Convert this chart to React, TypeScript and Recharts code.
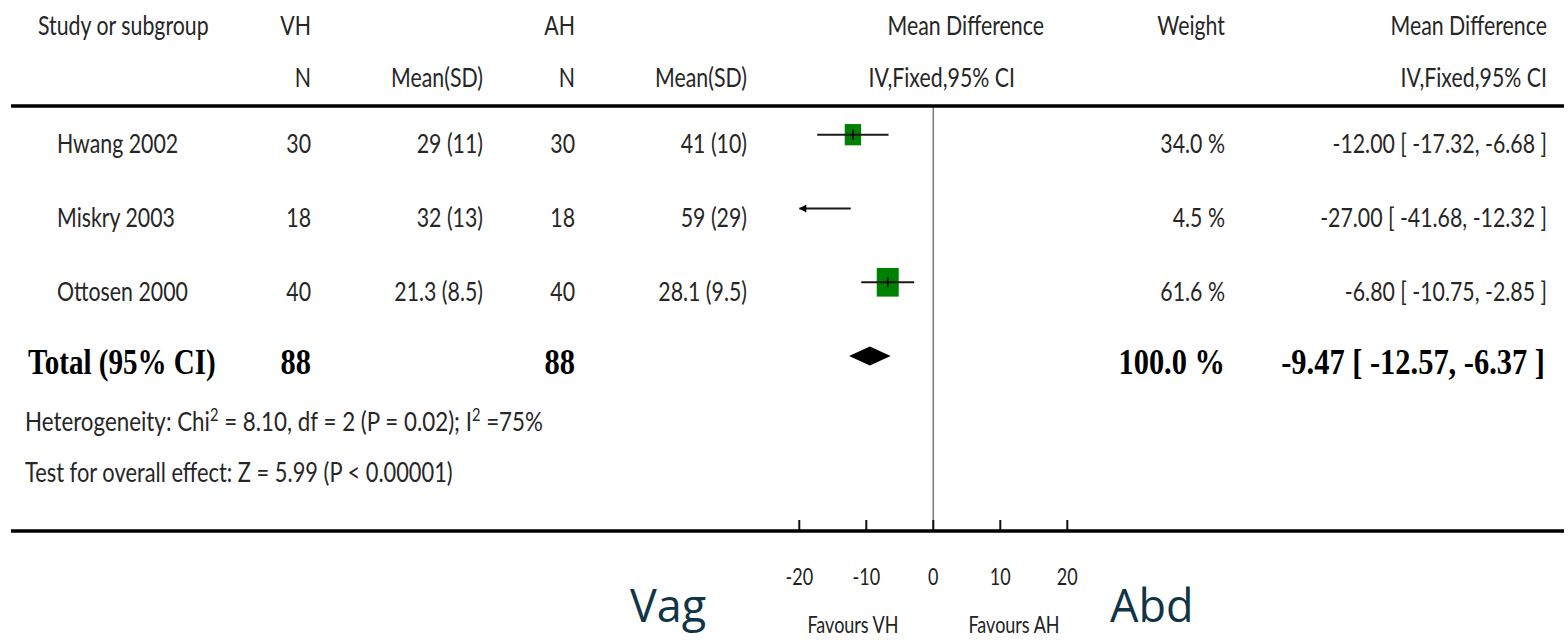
import { ComposedChart, ReferenceLine, Scatter, XAxis, YAxis } from "recharts";

const STUDIES = ["Hwang 2002", "Miskry 2003", "Ottosen 2000"];
const VH_N = [30, 18, 40];
const VH_MEAN_SD = ["29 (11)", "32 (13)", "21.3 (8.5)"];
const AH_N = [30, 18, 40];
const AH_MEAN_SD = ["41 (10)", "59 (29)", "28.1 (9.5)"];
const MEAN_DIFF = [-12.0, -27.0, -6.8];
const CI_LOW = [-17.32, -41.68, -10.75];
const CI_HIGH = [-6.68, -12.32, -2.85];
const WEIGHTS = [34.0, 4.5, 61.6];

const TOTAL_VH_N = 88;
const TOTAL_AH_N = 88;
const TOTAL_MD = -9.47;
const TOTAL_LOW = -12.57;
const TOTAL_HIGH = -6.37;
const TOTAL_WEIGHT = 100.0;

const X_TICKS = [-20, -10, 0, 10, 20];
const X_MIN = -20;
const X_MAX = 20;

const W = 1568;
const H = 640;
const PLOT_TOP = 107;
const PLOT_BOTTOM = 531;
const ROW_STEP = 73.8;
const ROW_START = 0.625;
const ROW_END = ROW_START + (PLOT_BOTTOM - PLOT_TOP) / ROW_STEP;

const SANS = "Lato, 'Noto Sans', sans-serif";
const SERIF = "'Liberation Serif', 'DejaVu Serif', serif";
const INK = "#262626";

const rowY = (r: number) => PLOT_TOP + (r - ROW_START) * ROW_STEP;
const clampX = (v: number) => Math.min(X_MAX, Math.max(X_MIN, v));
const fmtCi = (md: number, lo: number, hi: number) =>
  `${md.toFixed(2)} [ ${lo.toFixed(2)}, ${hi.toFixed(2)} ]`;

const squareData = STUDIES.map((name, i) => ({
  name,
  x: MEAN_DIFF[i],
  y: i + 1,
  weight: WEIGHTS[i],
})).filter((d) => d.x >= X_MIN && d.x <= X_MAX);

type TProps = {
  x: number;
  y: number;
  anchor?: "start" | "middle" | "end";
  size?: number;
  sx?: number;
  family?: string;
  bold?: boolean;
  fill?: string;
  children: React.ReactNode;
};

function T({
  x,
  y,
  anchor = "start",
  size = 26,
  sx = 0.82,
  family = SANS,
  bold = false,
  fill = INK,
  children,
}: TProps) {
  return (
    <text
      transform={`translate(${x},${y}) scale(${sx},1)`}
      textAnchor={anchor}
      fontSize={size}
      fontFamily={family}
      fontWeight={bold ? 700 : 400}
      fill={fill}
    >
      {children}
    </text>
  );
}

function Square(props: any) {
  const { cx, cy, payload } = props;
  const w = 2.8 * Math.sqrt(payload.weight);
  const h = 3.65 * Math.sqrt(payload.weight);
  return (
    <g>
      <rect x={cx - w / 2} y={cy - h / 2} width={w} height={h} fill="#008000" />
      <line x1={cx - w / 2} x2={cx + w / 2} y1={cy} y2={cy} stroke="#1a1a1a" strokeWidth={2} />
      <line x1={cx} x2={cx} y1={cy - 5} y2={cy + 5} stroke="#000" strokeWidth={1.5} />
    </g>
  );
}

function CiLine(props: any) {
  const { x1, y1, x2, y2, arrowLeft, arrowRight } = props;
  return (
    <g>
      <line x1={x1} y1={y1} x2={x2} y2={y2} stroke="#1a1a1a" strokeWidth={2} />
      {arrowLeft && (
        <polygon points={`${x1},${y1} ${x1 + 7},${y1 - 4} ${x1 + 7},${y1 + 4}`} fill="#000" />
      )}
      {arrowRight && (
        <polygon points={`${x2},${y2} ${x2 - 7},${y2 - 4} ${x2 - 7},${y2 + 4}`} fill="#000" />
      )}
    </g>
  );
}

function Diamond(props: any) {
  const { x1, y1, x2 } = props;
  const mx = (x1 + x2) / 2;
  return (
    <polygon
      points={`${x1},${y1} ${mx},${y1 - 9.5} ${x2},${y1} ${mx},${y1 + 9.5}`}
      fill="#000"
    />
  );
}

function AxisTick(props: any) {
  const { x, y, payload } = props;
  return (
    <g>
      <line x1={x} x2={x} y1={y - 11} y2={y} stroke="#111" strokeWidth={2} />
      <T x={x} y={y + 54} anchor="middle" size={24} sx={0.75} fill="#222">
        {payload.value}
      </T>
    </g>
  );
}

function Table() {
  const cols = { name: 57, vhN: 311, vhMean: 483, ahN: 575, ahMean: 747, weight: 1225, ci: 1547 };
  const tb = rowY(4) + 17.5;
  return (
    <svg
      width={W}
      height={H}
      style={{ position: "absolute", left: 0, top: 0, pointerEvents: "none" }}
    >
      <line x1={11} x2={1564} y1={106} y2={106} stroke="#000" strokeWidth={3.5} />
      <line x1={11} x2={1564} y1={531} y2={531} stroke="#000" strokeWidth={3.5} />

      <T x={38} y={35}>Study or subgroup</T>
      <T x={cols.vhN} y={35} anchor="end">VH</T>
      <T x={cols.ahN} y={35} anchor="end">AH</T>
      <T x={1044} y={35} anchor="end">Mean Difference</T>
      <T x={cols.weight} y={35} anchor="end">Weight</T>
      <T x={cols.ci} y={35} anchor="end">Mean Difference</T>

      <T x={cols.vhN} y={87} anchor="end">N</T>
      <T x={cols.vhMean} y={87} anchor="end">Mean(SD)</T>
      <T x={cols.ahN} y={87} anchor="end">N</T>
      <T x={cols.ahMean} y={87} anchor="end">Mean(SD)</T>
      <T x={1015} y={87} anchor="end">IV,Fixed,95% CI</T>
      <T x={cols.ci} y={87} anchor="end">IV,Fixed,95% CI</T>

      {STUDIES.map((name, i) => {
        const y = rowY(i + 1) + 18.3;
        return (
          <g key={name}>
            <T x={cols.name} y={y}>{name}</T>
            <T x={cols.vhN} y={y} anchor="end">{VH_N[i]}</T>
            <T x={cols.vhMean} y={y} anchor="end">{VH_MEAN_SD[i]}</T>
            <T x={cols.ahN} y={y} anchor="end">{AH_N[i]}</T>
            <T x={cols.ahMean} y={y} anchor="end">{AH_MEAN_SD[i]}</T>
            <T x={cols.weight} y={y} anchor="end">{`${WEIGHTS[i].toFixed(1)} %`}</T>
            <T x={cols.ci} y={y} anchor="end">{fmtCi(MEAN_DIFF[i], CI_LOW[i], CI_HIGH[i])}</T>
          </g>
        );
      })}

      <T x={28} y={tb} size={35} sx={0.83} family={SERIF} bold fill="#000">Total (95% CI)</T>
      <T x={cols.vhN} y={tb} anchor="end" size={35} sx={0.87} family={SERIF} bold fill="#000">{TOTAL_VH_N}</T>
      <T x={cols.ahN} y={tb} anchor="end" size={35} sx={0.87} family={SERIF} bold fill="#000">{TOTAL_AH_N}</T>
      <T x={cols.weight} y={tb} anchor="end" size={35} sx={0.87} family={SERIF} bold fill="#000">{`${TOTAL_WEIGHT.toFixed(1)} %`}</T>
      <T x={1545} y={tb} anchor="end" size={35} sx={0.87} family={SERIF} bold fill="#000">{fmtCi(TOTAL_MD, TOTAL_LOW, TOTAL_HIGH)}</T>

      <T x={25} y={431} sx={0.86}>
        Heterogeneity: Chi<tspan dy={-10} fontSize={17}>2</tspan>
        <tspan dy={10}> = 8.10, df = 2 (P = 0.02); I</tspan>
        <tspan dy={-10} fontSize={17}>2</tspan>
        <tspan dy={10}> =75%</tspan>
      </T>
      <T x={25} y={482} sx={0.84}>Test for overall effect: Z = 5.99 (P &lt; 0.00001)</T>

      <T x={853} y={633} anchor="middle" size={24} sx={0.75} fill="#222">Favours VH</T>
      <T x={1014} y={633} anchor="middle" size={24} sx={0.75} fill="#222">Favours AH</T>

      <T x={630} y={622} size={45} sx={1} family="'Open Sans', sans-serif" fill="#0f3547">Vag</T>
      <T x={1110} y={622} size={45} sx={1} family="'Open Sans', sans-serif" fill="#0f3547">Abd</T>
    </svg>
  );
}

export default function App() {
  return (
    <div style={{ position: "fixed", left: 0, top: 0, width: W, height: H, background: "#fff" }}>
      <ComposedChart
        width={W}
        height={H}
        margin={{ top: PLOT_TOP, right: W - 1067.3, bottom: 0, left: 799.3 }}
      >
        <XAxis
          type="number"
          dataKey="x"
          domain={[X_MIN, X_MAX]}
          ticks={X_TICKS}
          interval={0}
          allowDataOverflow
          height={H - PLOT_BOTTOM}
          axisLine={false}
          tickLine={false}
          tickSize={0}
          tickMargin={0}
          tick={(p: any) => <AxisTick {...p} />}
        />
        <YAxis type="number" dataKey="y" domain={[ROW_START, ROW_END]} reversed hide allowDataOverflow />
        <ReferenceLine x={0} stroke="#7a7a7a" strokeWidth={1.5} />
        {STUDIES.map((name, i) => (
          <ReferenceLine
            key={name}
            segment={[
              { x: clampX(CI_LOW[i]), y: i + 1 },
              { x: clampX(CI_HIGH[i]), y: i + 1 },
            ]}
            shape={(p: any) => (
              <CiLine {...p} arrowLeft={CI_LOW[i] < X_MIN} arrowRight={CI_HIGH[i] > X_MAX} />
            )}
          />
        ))}
        <ReferenceLine
          segment={[
            { x: TOTAL_LOW, y: 4 },
            { x: TOTAL_HIGH, y: 4 },
          ]}
          shape={(p: any) => <Diamond {...p} />}
        />
        <Scatter data={squareData} dataKey="y" shape={(p: any) => <Square {...p} />} isAnimationActive={false} />
      </ComposedChart>
      <Table />
    </div>
  );
}
